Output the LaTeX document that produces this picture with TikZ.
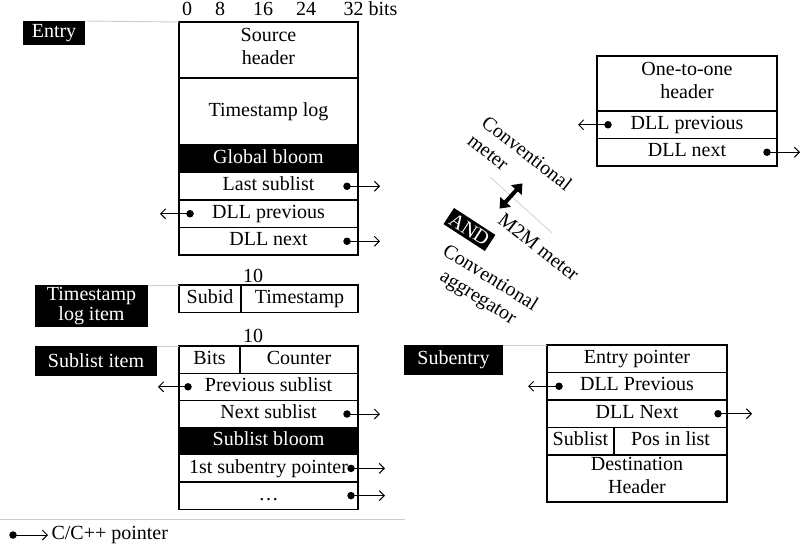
\documentclass[tikz,border=0pt]{standalone}
\usepackage{fontspec}
\setmainfont{Liberation Serif}
\usetikzlibrary{positioning,arrows.meta}

\begin{document}
\begin{tikzpicture}[x=1pt, y=-1pt,
    font=\fontsize{20}{23}\selectfont,
    field/.style={draw, line width=1.1pt, minimum width=179pt, minimum height=27.5pt,
                  inner sep=0pt, outer sep=0pt, align=center, execute at begin node=\strut},
    slrow/.style={field, minimum height=27.2pt},
    dark/.style={fill=black, text=white},
    tag/.style={fill=black, text=white, inner sep=0pt, outer sep=0pt, align=center},
    dot/.style={circle, fill, inner sep=0pt, minimum size=7.5pt},
    ptr/.style={-{Straight Barb[length=5pt, width=10pt]}, line width=1pt},
    tie/.style={draw=gray!40, line width=0.9pt},
    turned/.style={inner sep=0pt, anchor=north west}
]
    \useasboundingbox (0,0) rectangle (800,544);

    % bit ruler
    \node[anchor=base] (b0) at (187,15) {0};
    \node[anchor=base] (b8) at (220,15) {8};
    \node[anchor=base] (b16) at (263,15) {16};
    \node[anchor=base] (b24) at (306,15) {24};
    \node[anchor=base west] (b32) at (340,15) {32 bits};

    % entry
    \node[tag, minimum width=62pt, minimum height=24pt, anchor=north west] (entrytag) at (23,21) {Entry};
    \node[field, minimum height=56pt, anchor=north west] (src) at (179,22) {Source\\header\strut};
    \node[field, minimum height=67pt, below=0pt of src] (tslog) {Timestamp log};
    \node[field, dark, below=0pt of tslog] (gbloom) {Global bloom};
    \node[field, below=0pt of gbloom] (last) {Last sublist};
    \node[field, below=0pt of last] (eprev) {DLL previous};
    \node[field, below=0pt of eprev] (enext) {DLL next};
    \draw[tie] (entrytag.north east) -- (src.north west);

    \node[dot] (lastd) at ([xshift=-11pt]last.east) {};
    \node[dot] (eprevd) at ([xshift=11pt]eprev.west) {};
    \node[dot] (enextd) at ([xshift=-11pt]enext.east) {};
    \draw[ptr] (lastd.center) -- ++(33,0);
    \draw[ptr] (eprevd.center) -- ++(-30,0);
    \draw[ptr] (enextd.center) -- ++(33,0);

    % timestamp log item
    \node[tag, minimum width=113pt, minimum height=42pt, anchor=north west,
          font=\fontsize{20}{20}\selectfont] (tstag) at (35,285) {Timestamp\\log item};
    \node[field, minimum width=62pt, anchor=north west] (subid) at (179,285) {Subid};
    \node[field, minimum width=117pt, right=0pt of subid] (tstamp) {Timestamp};
    \node[anchor=base] (ts10) at (253,282) {10};
    \draw[tie] (tstag.north east) -- (subid.north west);

    % sublist item
    \node[tag, minimum width=122pt, minimum height=30pt, anchor=north west] (sltag) at (35,346) {Sublist item};
    \node[slrow, minimum width=61pt, anchor=north west] (bits) at (179,346) {Bits};
    \node[slrow, minimum width=118pt, right=0pt of bits] (counter) {Counter};
    \node[anchor=base] (sl10) at (253,342) {10};
    \node[slrow, below=0pt of bits.south west, anchor=north west] (sprev) {Previous sublist};
    \node[slrow, below=0pt of sprev] (snext) {Next sublist};
    \node[slrow, dark, below=0pt of snext] (sbloom) {Sublist bloom};
    \node[slrow, below=0pt of sbloom] (first) {1st subentry pointer};
    \node[slrow, below=0pt of first] (more) {\dots};
    \draw[tie] (sltag.north east) -- (bits.north west);

    \node[dot] (sprevd) at ([xshift=9pt]sprev.west) {};
    \node[dot] (snextd) at ([xshift=-11pt]snext.east) {};
    \node[dot] (firstd) at ([xshift=-7pt]first.east) {};
    \node[dot] (mored) at ([xshift=-7pt]more.east) {};
    \draw[ptr] (sprevd.center) -- ++(-30,0);
    \draw[ptr] (snextd.center) -- ++(33,0);
    \draw[ptr] (firstd.center) -- ++(34,0);
    \draw[ptr] (mored.center) -- ++(34,0);

    % one-to-one
    \node[field, minimum width=180pt, minimum height=55pt, anchor=north west] (oto) at (597,56) {One-to-one\\header\strut};
    \node[field, minimum width=180pt, below=0pt of oto] (oprev) {DLL previous};
    \node[field, minimum width=180pt, below=0pt of oprev] (onext) {DLL next};

    \node[dot] (oprevd) at ([xshift=11pt]oprev.west) {};
    \node[dot] (onextd) at ([xshift=-10pt]onext.east) {};
    \draw[ptr] (oprevd.center) -- ++(-30,0);
    \draw[ptr] (onextd.center) -- ++(33,0);

    % subentry
    \node[tag, minimum width=99pt, minimum height=30pt, anchor=north west] (subtag) at (404,345) {Subentry};
    \node[field, minimum width=180pt, anchor=north west] (eptr) at (547,345) {Entry pointer};
    \node[field, minimum width=180pt, below=0pt of eptr] (sbprev) {DLL Previous};
    \node[field, minimum width=180pt, below=0pt of sbprev] (sbnext) {DLL Next};
    \node[field, minimum width=67pt, below=0pt of sbnext.south west, anchor=north west] (sbsub) {Sublist};
    \node[field, minimum width=113pt, right=0pt of sbsub] (pos) {Pos in list};
    \node[field, minimum width=180pt, minimum height=47pt, below=0pt of sbsub.south west,
          anchor=north west] (dest) {Destination\\Header\strut};
    \draw[tie] (subtag.north east) -- (eptr.north west);

    \node[dot] (sbprevd) at ([xshift=12pt]sbprev.west) {};
    \node[dot] (sbnextd) at ([xshift=-9pt]sbnext.east) {};
    \draw[ptr] (sbprevd.center) -- ++(-31,0);
    \draw[ptr] (sbnextd.center) -- ++(34,0);

    % meter swap
    \node[turned, rotate=-38, align=left] (cmeter) at (489,114) {Conventional\\meter};
    \node[turned, rotate=-38] (mmeter) at (505,212) {M2M meter};
    \node[tag, turned, rotate=-33, inner sep=3pt] (andtag) at (454,208) {AND};
    \node[turned, rotate=-32, align=center] (cagg) at (449,242) {Conventional\\aggregator};
    \draw[draw=gray!40, line width=0.7pt] (490,177) -- (552,233);
    \coordinate (swapa) at (522.4,183.4);
    \coordinate (swapb) at (499.6,208.6);
    \draw[line width=4pt, {Triangle[length=9pt, width=14pt]}-{Triangle[length=9pt, width=14pt]}]
        (swapa) -- (swapb);

    % legend
    \draw[tie] (0,519) -- (405,519);
    \node[dot] (legd) at (13,535) {};
    \node[anchor=west] (legtxt) at (48,535) {C/C++ pointer};
    \draw[ptr] (legd.center) -- (legtxt.west);
\end{tikzpicture}
\end{document}
